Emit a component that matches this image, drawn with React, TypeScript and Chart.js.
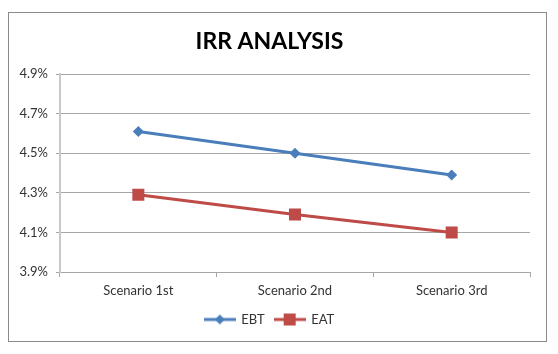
import React, { useEffect, useRef } from "react";
import { Chart, registerables } from "chart.js";

Chart.register(...registerables);

const categories = ["Scenario 1st", "Scenario 2nd", "Scenario 3rd"];
const ebtValues = [4.61, 4.5, 4.39];
const eatValues = [4.29, 4.19, 4.1];
const yMin = 3.9;
const yMax = 4.9;
const yStep = 0.2;

const BLUE = "#4A7EBB";
const RED = "#BE4B48";
const FONT = "Lato, 'Open Sans', sans-serif";

function legendImage(color: string, kind: "diamond" | "square"): HTMLCanvasElement {
  const c = document.createElement("canvas");
  c.width = 32;
  c.height = 14;
  const ctx = c.getContext("2d")!;
  ctx.strokeStyle = color;
  ctx.lineWidth = 3;
  ctx.beginPath();
  ctx.moveTo(0, 7);
  ctx.lineTo(32, 7);
  ctx.stroke();
  ctx.fillStyle = color;
  if (kind === "diamond") {
    ctx.beginPath();
    ctx.moveTo(16, 2);
    ctx.lineTo(21, 7);
    ctx.lineTo(16, 12);
    ctx.lineTo(11, 7);
    ctx.closePath();
    ctx.fill();
  } else {
    ctx.fillRect(10, 1, 12, 12);
  }
  return c;
}

export default function App() {
  const ref = useRef<HTMLCanvasElement | null>(null);

  useEffect(() => {
    if (!ref.current) return;
    const imgs = [legendImage(BLUE, "diamond"), legendImage(RED, "square")];
    const chart = new Chart(ref.current, {
      type: "line",
      data: {
        labels: categories,
        datasets: [
          {
            label: "EBT",
            data: ebtValues,
            borderColor: BLUE,
            backgroundColor: BLUE,
            borderWidth: 3,
            pointStyle: "rectRot",
            pointRadius: 5.5,
            pointBorderWidth: 0,
            tension: 0,
          },
          {
            label: "EAT",
            data: eatValues,
            borderColor: RED,
            backgroundColor: RED,
            borderWidth: 3,
            pointStyle: "rect",
            pointRadius: 8.5,
            pointBorderWidth: 0,
            tension: 0,
          },
        ],
      },
      options: {
        responsive: false,
        animation: false,
        layout: { padding: { left: 0, right: 16, top: 0, bottom: 5 } },
        plugins: {
          tooltip: { enabled: false },
          title: {
            display: true,
            text: "IRR ANALYSIS",
            color: "#000",
            font: { family: FONT, size: 23, weight: "bold" },
            padding: { top: 15, bottom: 18.4 },
          },
          legend: {
            position: "bottom",
            labels: {
              usePointStyle: true,
              pointStyleWidth: 30,
              boxHeight: 12,
              padding: 10,
              color: "#333",
              font: { family: FONT, size: 13 },
              generateLabels: (ch: any) => {
                const items = Chart.defaults.plugins.legend.labels.generateLabels(ch);
                items.forEach((it: any, i: number) => {
                  it.pointStyle = imgs[i];
                });
                return items;
              },
            },
          },
        },
        scales: {
          x: {
            offset: true,
            grid: {
              offset: true,
              drawOnChartArea: false,
              drawTicks: true,
              tickLength: 5,
              color: "#A6A6A6",
            },
            border: { color: "#A6A6A6", width: 1 },
            ticks: { color: "#333", padding: 6, font: { family: FONT, size: 13 } },
            afterFit: (s: any) => {
              s.height = 31;
            },
          },
          y: {
            min: yMin,
            max: yMax,
            grid: { color: "#A6A6A6", tickLength: 4, lineWidth: 1 },
            border: { color: "#C8C8C8", width: 2 },
            ticks: {
              stepSize: yStep,
              color: "#333",
              padding: 8,
              font: { family: FONT, size: 13 },
              callback: (v: any) => Number(v).toFixed(1) + "%",
            },
            afterFit: (s: any) => {
              s.width = 51;
            },
          },
        },
      },
    });
    return () => chart.destroy();
  }, []);

  return (
    <div
      style={{
        marginTop: 4,
        width: 537,
        height: 328,
        border: "1px solid #8A8A8A",
        background: "#fff",
      }}
    >
      <canvas ref={ref} width={537} height={328} style={{ display: "block" }} />
    </div>
  );
}
